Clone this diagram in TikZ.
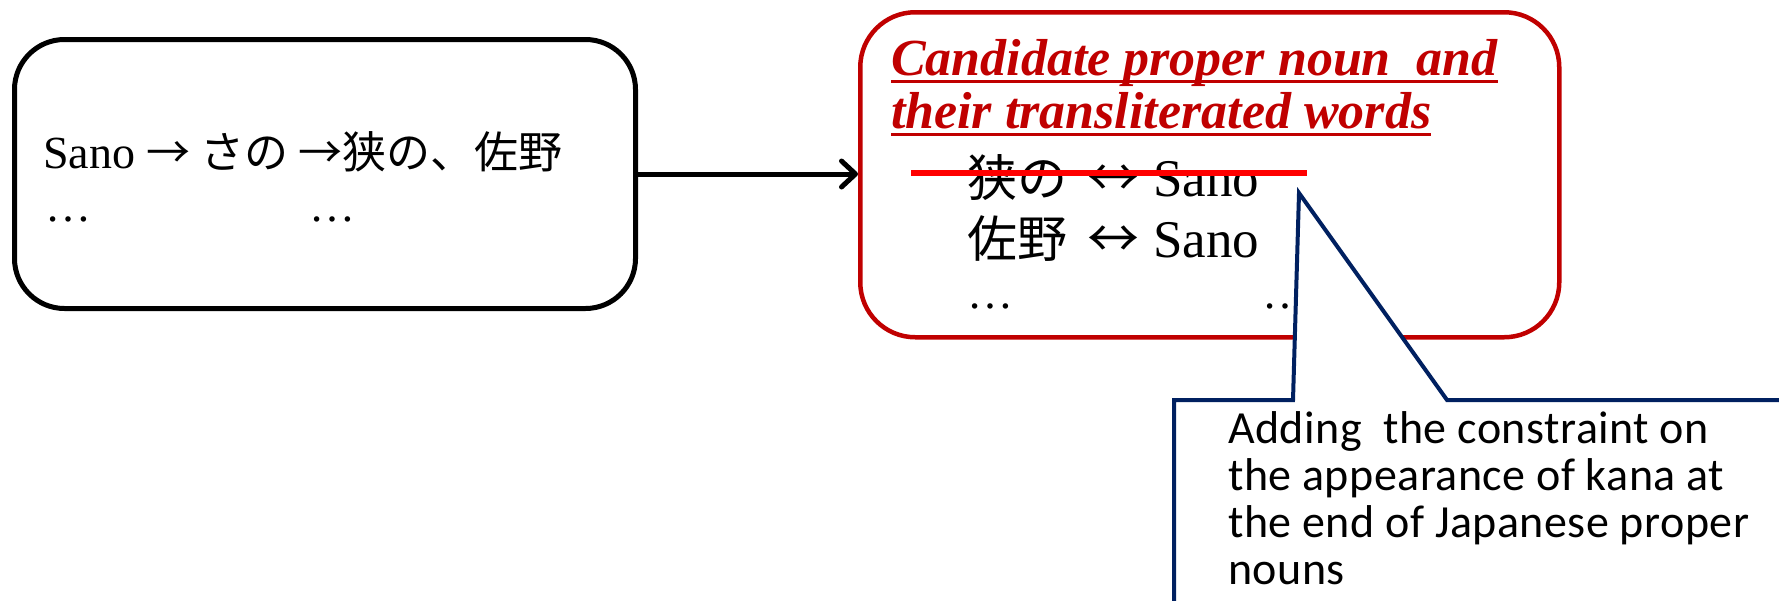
\documentclass[tikz,border=0pt]{standalone}
\usepackage{fontspec}
\setmainfont{Liberation Serif}
\newfontfamily\cjk{Noto Sans CJK JP}
\newfontfamily\calib[LetterSpace=1]{Carlito}
\usetikzlibrary{arrows.meta}
\definecolor{darkred}{HTML}{C00000}
\definecolor{navy}{HTML}{002060}
\tikzset{
  boxblack/.style={draw=black, line width=5pt, rounded corners=50pt},
  boxred/.style={draw=darkred, line width=4.5pt, rounded corners=55pt},
  txt/.style={anchor=base west, inner sep=0pt, outer sep=0pt},
  conn/.style={draw=black, line width=5pt, -{Straight Barb[length=14pt,width=26pt,line width=5pt,round]}},
  calloutline/.style={draw=navy, fill=white, line width=4pt, line join=miter},
}
\begin{document}
\begin{tikzpicture}[x=1pt,y=-1pt]
\path[use as bounding box] (0,0) rectangle (1779,600);
\clip (0,0) rectangle (1779,600);
% left box
\node[boxblack, minimum width=621pt, minimum height=269pt, anchor=north west] (left) at (12,37) {};
\node[txt] (ltext) at (43,168) {\fontsize{46}{46}\selectfont Sano {\cjk\fontsize{44}{44}\selectfont → さの →狭の、佐野}};
\node[txt] (ldots1) at (45,221) {\fontsize{46}{46}\selectfont …};
\node[txt] (ldots2) at (309,221) {\fontsize{46}{46}\selectfont …};
% right box
\node[boxred, minimum width=699pt, minimum height=325pt, anchor=north west] (right) at (858,10) {};
\node[txt, text=darkred] (t1) at (891,75) {\fontsize{52}{52}\selectfont\bfseries\itshape Candidate proper noun\ \ and};
\node[txt, text=darkred] (t2) at (891,128) {\fontsize{52}{52}\selectfont\bfseries\itshape their transliterated words};
\draw[darkred, line width=3pt] ([yshift=-6pt]t1.base west) -- ([yshift=-6pt]t1.base east);
\draw[darkred, line width=3pt] ([yshift=-6pt]t2.base west) -- ([yshift=-6pt]t2.base east);
\node[txt] (p1) at (967,196) {\fontsize{53}{53}\selectfont{\cjk\fontsize{50}{50}\selectfont 狭の}\hspace{20pt}{\cjk\fontsize{52}{52}\selectfont ↔}\hspace{14pt}Sano};
\node[txt] (p2) at (967,257) {\fontsize{53}{53}\selectfont{\cjk\fontsize{50}{50}\selectfont 佐野}\hspace{20pt}{\cjk\fontsize{52}{52}\selectfont ↔}\hspace{14pt}Sano};
\node[txt] (rdots1) at (967,308) {\fontsize{46}{46}\selectfont …};
\node[txt] (rdots2) at (1262,308) {\fontsize{46}{46}\selectfont …};
\draw[red, line width=6.5pt] (911,173) -- (1307,173);
% connector
\draw[conn] (left.east) -- (right.west |- left.east);
% callout
\coordinate (tip) at (1299,193);
\path[calloutline] (1174,620) -- (1174,400) -- (1293,400) -- (tip) -- (1447,400) -- (1800,400) -- (1800,620) -- cycle;
\node[anchor=north west, inner sep=0pt, align=left, text=black, font=\calib\fontsize{46}{47}\selectfont] (note) at (1228,411)
 {Adding\ \ the constraint on\\the appearance of kana at\\the end of Japanese proper\\nouns};
\end{tikzpicture}
\end{document}
